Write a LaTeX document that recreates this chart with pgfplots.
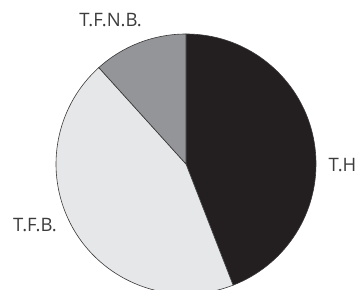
\documentclass[border=0pt]{standalone}
\usepackage{pgfplots}
\pgfplotsset{compat=1.18}
\usepackage{pgfplotstable}
\usepackage{fontspec}
\setmainfont{Open Sans}
\definecolor{cTH}{HTML}{231F20}
\definecolor{cTFB}{HTML}{E6E7E8}
\definecolor{cTFNB}{HTML}{939598}
\definecolor{cEdge}{HTML}{3A3839}
\definecolor{cText}{HTML}{3C3C3C}
\pgfplotstableread{
label value
T.H 44.1
T.F.B. 44.2
T.F.N.B. 11.7
}\piedata
\pgfplotstablegetelem{0}{value}\of\piedata \let\vA\pgfplotsretval
\pgfplotstablegetelem{1}{value}\of\piedata \let\vB\pgfplotsretval
\pgfplotstablegetelem{2}{value}\of\piedata \let\vC\pgfplotsretval
\pgfmathsetmacro\aA{90}
\pgfmathsetmacro\aB{\aA-3.6*\vA}
\pgfmathsetmacro\aC{\aB-3.6*\vB}
\pgfmathsetmacro\aD{\aC-3.6*\vC}
\begin{document}
\begin{tikzpicture}
\begin{axis}[
  hide axis, scale only axis,
  width=359bp, height=290bp,
  xmin=0, xmax=359, ymin=0, ymax=290,
]
\def\R{130bp}
\filldraw[fill=cTH, draw=cEdge, line width=0.6bp] (axis cs:186,126) -- ++(\aA:\R) arc[start angle=\aA, end angle=\aB, radius=\R] -- cycle;
\filldraw[fill=cTFB, draw=cEdge, line width=0.6bp] (axis cs:186,126) -- ++(\aB:\R) arc[start angle=\aB, end angle=\aC, radius=\R] -- cycle;
\filldraw[fill=cTFNB, draw=cEdge, line width=0.6bp] (axis cs:186,126) -- ++(\aC:\R) arc[start angle=\aC, end angle=\aD, radius=\R] -- cycle;
\node[anchor=base west, inner sep=0pt, font=\fontsize{18.5bp}{20bp}\selectfont, text=cText] at (axis cs:328.5,118.5) {T.H};
\node[anchor=base west, inner sep=0pt, font=\fontsize{18.5bp}{20bp}\selectfont, text=cText] at (axis cs:13,58.5) {T.F.B.};
\node[anchor=base east, inner sep=0pt, font=\fontsize{18.5bp}{20bp}\selectfont, text=cText] at (axis cs:142,263.5) {T.F.N.B.};
\end{axis}
\pgfresetboundingbox
\useasboundingbox (current axis.south west) rectangle (current axis.north east);
\end{tikzpicture}
\end{document}
